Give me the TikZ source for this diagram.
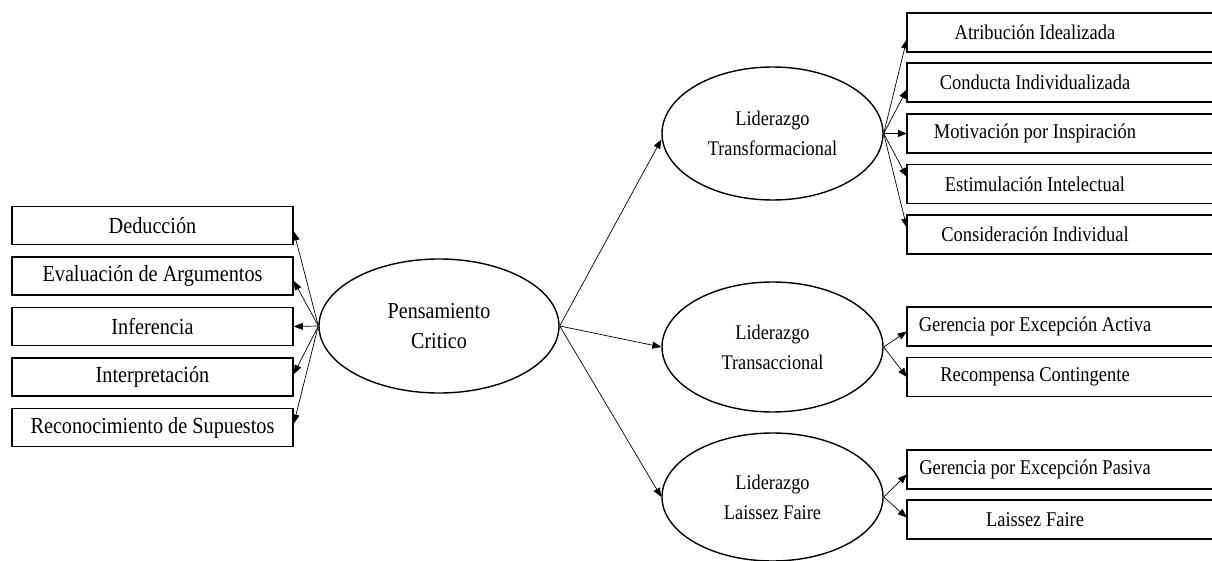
\documentclass[tikz,border=0pt]{standalone}
\usepackage{fontspec}
\setmainfont{Liberation Serif}[FakeStretch=0.88]
\usetikzlibrary{arrows.meta,shapes.geometric}
\begin{document}
\begin{tikzpicture}[x=1pt,y=-1pt,
  lbox/.style={draw,line width=1.6pt,fill=white,minimum width=281pt,minimum height=38pt,inner sep=0pt,font=\fontsize{23}{26}\selectfont},
  rbox/.style={minimum width=256pt,minimum height=39pt,inner sep=0pt,font=\fontsize{21}{24}\selectfont},
  rframe/.style={draw,line width=1.6pt,fill=white},
  oval/.style={draw,ellipse,line width=1.4pt,fill=white,inner sep=0pt,align=center},
  conn/.style={line width=0.7pt,-{Triangle[length=9pt,width=7pt]}}
]
\useasboundingbox (0,0) rectangle (1212,561);
\fill[white] (0,0) rectangle (1212,561);

% left boxes
\node[lbox] (d1) at (152.5,225.5) {Deducción};
\node[lbox] (d2) at (152.5,276) {Evaluación de Argumentos};
\node[lbox] (d3) at (152.5,326.5) {Inferencia};
\node[lbox] (d4) at (152.5,377) {Interpretación};
\node[lbox] (d5) at (152.5,427.5) {Reconocimiento de Supuestos};

% central ellipse
\node[oval,minimum width=240pt,minimum height=134pt,font=\fontsize{22.8}{30}\selectfont] (pc) at (439,326) {Pensamiento\\Critico};

% leadership ellipses
\node[oval,minimum width=221pt,minimum height=133pt,font=\fontsize{20.8}{30}\selectfont] (lt) at (772.5,133.5) {Liderazgo\\Transformacional};
\node[oval,minimum width=221pt,minimum height=130pt,font=\fontsize{20.8}{30}\selectfont] (lr) at (772.5,347) {Liderazgo\\Transaccional};
\node[oval,minimum width=221pt,minimum height=128pt,font=\fontsize{20.8}{30}\selectfont] (lf) at (772.5,497) {Liderazgo\\Laissez Faire};

% right box frames (extend past the right edge)
\foreach \yc in {32.5,82.5,133.5,184,234.5,326.5,377,469.5,519.5}{
  \draw[rframe] (907,\yc-19.5) rectangle (1225,\yc+19.5);
}

% right box texts
\node[rbox] (a1) at (1035,32.5) {Atribución Idealizada};
\node[rbox] (a2) at (1035,82.5) {Conducta Individualizada};
\node[rbox] (a3) at (1035,133.5) {Motivación por Inspiración};
\node[rbox] (a4) at (1035,184) {Estimulación Intelectual};
\node[rbox] (a5) at (1035,234.5) {Consideración Individual};
\node[rbox] (b1) at (1035,326.5) {Gerencia por Excepción Activa};
\node[rbox] (b2) at (1035,377) {Recompensa Contingente};
\node[rbox] (c1) at (1035,469.5) {Gerencia por Excepción Pasiva};
\node[rbox] (c2) at (1035,519.5) {Laissez Faire};

% connectors: critical thinking to its indicators
\draw[conn] (pc.west) -- ([yshift=-6pt]d1.east);
\draw[conn] (pc.west) -- ([yshift=-5pt]d2.east);
\draw[conn] (pc.west) -- (d3.east);
\draw[conn] (pc.west) -- ([yshift=3pt]d4.east);
\draw[conn] (pc.west) -- ([yshift=4pt]d5.east);

% critical thinking to leadership styles
\draw[conn] (pc.east) -- ([yshift=-6pt]lt.west);
\draw[conn] (pc.east) -- (lr.west);
\draw[conn] (pc.east) -- (lf.west);

% leadership styles to dimensions
\draw[conn] (lt.east) -- ([yshift=-7pt]a1.west);
\draw[conn] (lt.east) -- ([yshift=-7pt]a2.west);
\draw[conn] (lt.east) -- (a3.west);
\draw[conn] (lt.east) -- ([yshift=7pt]a4.west);
\draw[conn] (lt.east) -- ([yshift=7pt]a5.west);
\draw[conn] (lr.east) -- ([yshift=-5pt]b1.west);
\draw[conn] (lr.east) -- (b2.west);
\draw[conn] (lf.east) -- ([yshift=-5pt]c1.west);
\draw[conn] (lf.east) -- ([yshift=2pt]c2.west);
\end{tikzpicture}
\end{document}
